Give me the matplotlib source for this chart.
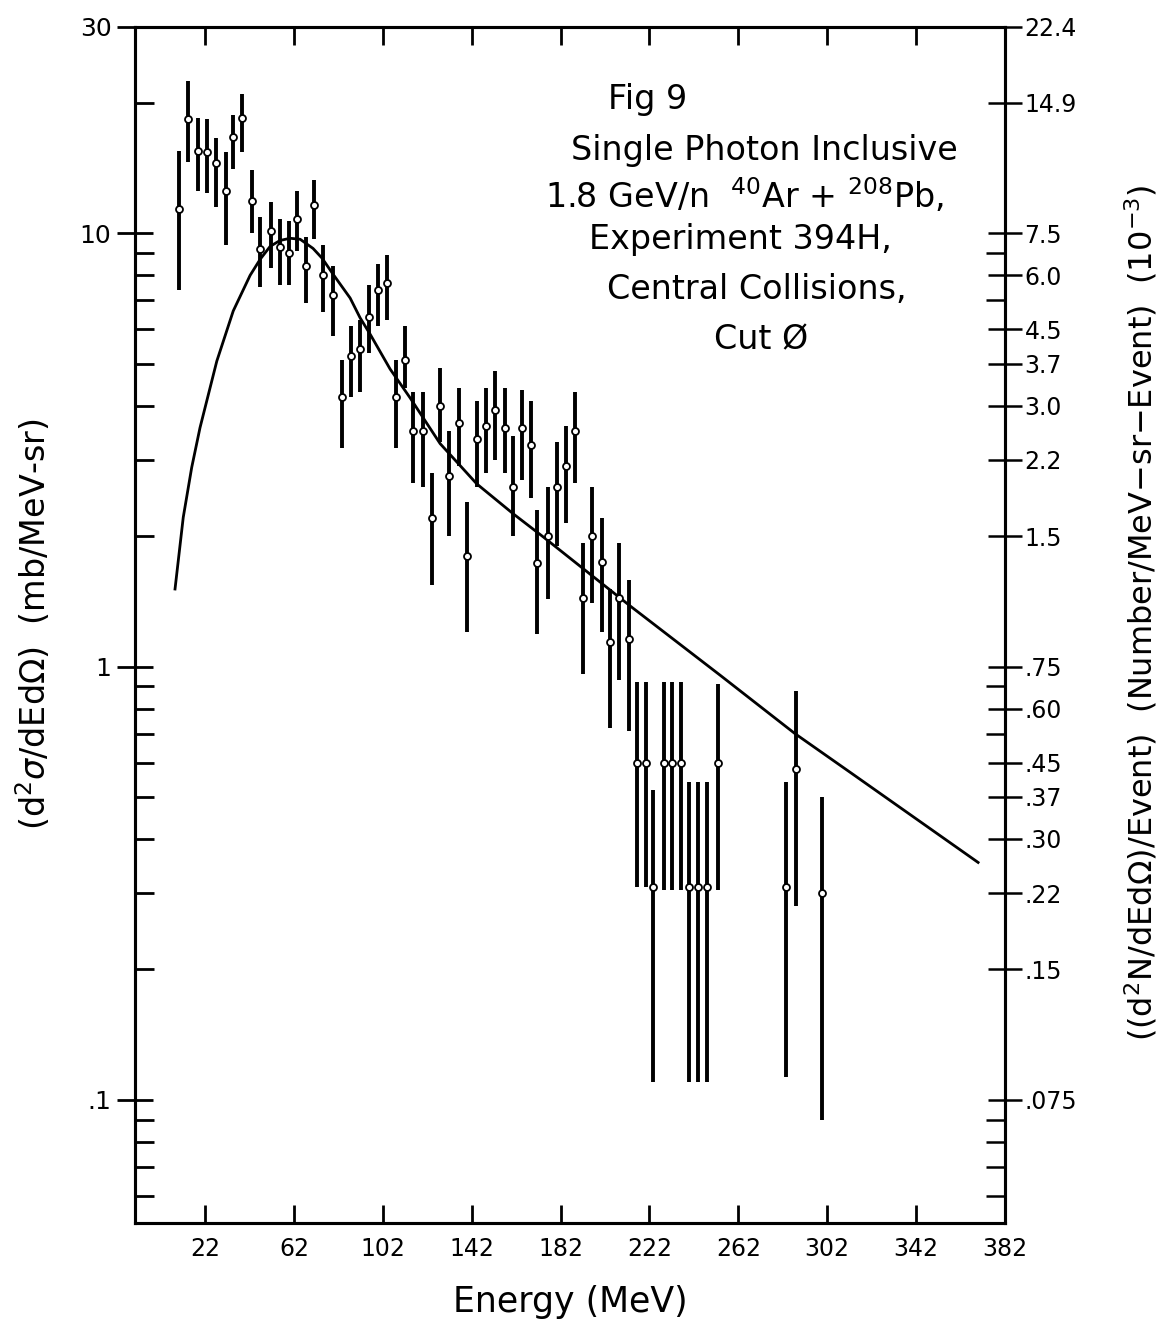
import numpy as np
import matplotlib
matplotlib.use("Agg")
import matplotlib.pyplot as plt
from matplotlib.ticker import FixedLocator, LogLocator, NullFormatter

plt.rcParams.update({"font.family": ["DejaVu Sans"], "font.size": 15})

# measured points: energy (MeV), d2sigma/dEdOmega (mb/MeV-sr), bar bottom, bar top
energy = [10.4, 14.5, 19.0, 22.8, 27.0, 31.5, 34.5, 38.5, 43.0, 46.8,
          51.6, 55.8, 59.7, 63.3, 67.5, 71.2, 75.0, 79.5, 83.5, 87.7,
          91.8, 96.0, 100.0, 104.0, 107.8, 112.2, 115.8, 120.2, 124.0, 127.9,
          131.8, 136.4, 140.1, 144.3, 148.4, 152.5, 156.9, 160.6, 164.8, 168.6,
          171.6, 176.2, 180.3, 184.5, 188.5, 192.3, 196.3, 200.5, 204.3, 208.3,
          212.8, 216.3, 220.5, 223.8, 228.6, 232.0, 236.2, 240.0, 244.0, 247.8,
          252.7, 283.3, 287.8, 299.5]
sigma = [11.4, 18.4, 15.5, 15.4, 14.5, 12.5, 16.7, 18.5, 11.9, 9.2,
         10.1, 9.3, 9.0, 10.8, 8.4, 11.6, 8.0, 7.2, 4.2, 5.2,
         5.4, 6.4, 7.4, 7.7, 4.2, 5.1, 3.5, 3.5, 2.2, 4.0,
         2.75, 3.65, 1.8, 3.35, 3.6, 3.9, 3.55, 2.6, 3.55, 3.25,
         1.73, 2.0, 2.6, 2.9, 3.5, 1.44, 2.0, 1.74, 1.14, 1.44,
         1.16, 0.60, 0.60, 0.31, 0.60, 0.60, 0.60, 0.31, 0.31, 0.31,
         0.60, 0.31, 0.58, 0.30]
sig_lo = [7.4, 14.6, 12.5, 12.4, 11.5, 9.4, 14.1, 15.4, 10.0, 7.5,
          8.3, 7.6, 7.6, 9.1, 6.9, 9.7, 6.6, 5.8, 3.2, 4.2,
          4.3, 5.3, 6.1, 6.3, 3.2, 4.4, 2.65, 2.6, 1.54, 3.3,
          2.0, 2.9, 1.2, 2.6, 2.8, 3.0, 2.8, 2.0, 2.7, 2.45,
          1.19, 1.43, 1.9, 2.15, 2.65, 0.96, 1.4, 1.2, 0.72, 0.93,
          0.71, 0.31, 0.31, 0.11, 0.305, 0.305, 0.305, 0.11, 0.11, 0.11,
          0.305, 0.113, 0.28, 0.09]
sig_hi = [15.5, 22.5, 18.5, 18.4, 16.6, 15.4, 18.8, 21.0, 14.0, 10.9,
          11.8, 10.8, 10.7, 12.5, 9.8, 13.3, 9.4, 8.4, 5.1, 6.1,
          6.3, 7.6, 8.5, 8.9, 5.1, 6.1, 4.3, 4.3, 2.8, 4.9,
          3.5, 4.4, 2.4, 4.1, 4.4, 4.8, 4.4, 3.4, 4.35, 4.1,
          2.3, 2.6, 3.3, 3.6, 4.3, 1.93, 2.6, 2.2, 1.51, 1.93,
          1.58, 0.92, 0.92, 0.52, 0.92, 0.92, 0.92, 0.54, 0.54, 0.54,
          0.91, 0.54, 0.88, 0.50]

# hand-drawn fit curve
fit_e = [8.5, 12.2, 16.0, 19.75, 27.3, 34.7, 42.3, 46.8, 51.3, 55.8, 60.3, 64.8,
         70.6, 74.7, 79.6, 87.3, 91.8, 96.3, 105.3, 114.3, 127.8, 144.3,
         160.8, 174.3, 213.3, 253.8, 287.5, 312.3, 369.9]
fit_s = [1.51, 2.21, 2.88, 3.56, 5.07, 6.62, 8.0, 8.71, 9.33, 9.63, 9.74, 9.69,
         9.23, 8.76, 8.05, 7.09, 6.38, 5.85, 4.86, 4.17, 3.27, 2.64,
         2.25, 1.99, 1.38, 0.955, 0.70, 0.57, 0.353]

x_ticks = [22, 62, 102, 142, 182, 222, 262, 302, 342, 382]
left_ticks = [30, 10, 1, 0.1]
left_labels = ["30", "10", "1", ".1"]
right_at = [30, 20, 10, 8, 6, 5, 4, 3, 2, 1, 0.8, 0.6, 0.5, 0.4, 0.3, 0.2, 0.1]
right_labels = ["22.4", "14.9", "7.5", "6.0", "4.5", "3.7", "3.0", "2.2", "1.5",
                ".75", ".60", ".45", ".37", ".30", ".22", ".15", ".075"]
note_lines = ["Fig 9", "Single Photon Inclusive",
              r"1.8 GeV/n  $^{40}$Ar + $^{208}$Pb,",
              "Experiment 394H,", "Central Collisions,", "Cut Ø"]

fig = plt.figure(figsize=(11.64, 13.32), dpi=100)
ax = fig.add_axes([0.116, 0.082, 0.7474, 0.898])
ax.set_yscale("log")
ax.set_xlim(-9.5, 382)
ax.set_ylim(0.052, 30)

e = np.array(energy); s = np.array(sigma)
yerr = [s - np.array(sig_lo), np.array(sig_hi) - s]
ax.errorbar(e, s, yerr=yerr, fmt="o", ms=5, mfc="white", mec="black", mew=1.3,
            ecolor="black", elinewidth=2.8, capsize=0, zorder=3)
ax.plot(fit_e, fit_s, "-", color="black", lw=2.0, zorder=2)

for sp in ax.spines.values():
    sp.set_linewidth(2.2)

ax.xaxis.set_major_locator(FixedLocator(x_ticks))
ax.set_xticklabels([str(t) for t in x_ticks])
ax.tick_params(axis="x", which="major", direction="in", length=13, width=2,
               top=True, pad=10, labelsize=17)
ax.yaxis.set_major_locator(FixedLocator(left_ticks))
ax.set_yticklabels(left_labels)
ax.yaxis.set_minor_locator(LogLocator(base=10, subs=range(2, 10)))
ax.yaxis.set_minor_formatter(NullFormatter())
ax.tick_params(axis="y", which="major", direction="inout", length=26, width=2,
               labelsize=18, pad=4)
ax.tick_params(axis="y", which="minor", direction="in", length=14, width=2)

axr = ax.twinx()
axr.set_yscale("log")
axr.set_ylim(ax.get_ylim())
axr.yaxis.set_major_locator(FixedLocator(right_at))
axr.set_yticklabels(right_labels)
axr.yaxis.set_minor_locator(LogLocator(base=10, subs=range(2, 10)))
axr.yaxis.set_minor_formatter(NullFormatter())
axr.tick_params(axis="y", which="major", direction="inout", length=24, width=1.8,
                labelsize=17, pad=2)
axr.tick_params(axis="y", which="minor", direction="in", length=14, width=1.8)
for sp in axr.spines.values():
    sp.set_linewidth(2.2)

ax.set_xlabel("Energy (MeV)", fontsize=25)
ax.xaxis.set_label_coords(0.5, -0.052)
ax.set_ylabel(r"(d$^2\sigma$/dEd$\Omega$)  (mb/MeV-sr)", fontsize=24)
ax.yaxis.set_label_coords(-0.094, 0.5)
axr.set_ylabel(r"((d$^2$N/dEd$\Omega$)/Event)  (Number/MeV$-$sr$-$Event)  (10$^{-3}$)",
               fontsize=23)
axr.yaxis.set_label_coords(1.135, 0.51)

ys = [0.925, 0.887, 0.853, 0.820, 0.783, 0.745]
xs = [0.556, 0.657, 0.640, 0.636, 0.650, 0.654]
for txt, x, y in zip(note_lines, xs, ys):
    fig.text(x, y, txt, fontsize=24, ha="center", va="center")

fig.savefig("out.png", dpi=100, facecolor="white")
